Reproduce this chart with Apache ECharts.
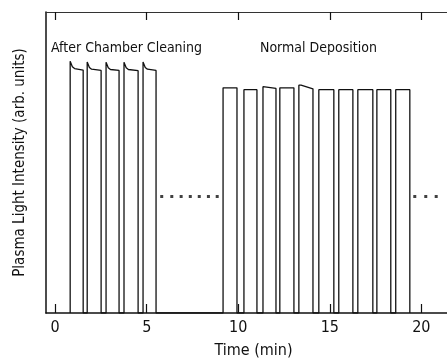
<!DOCTYPE html>
<html>
<head>
<meta charset="utf-8">
<script src="https://cdn.jsdelivr.net/npm/echarts@6/dist/echarts.min.js"></script>
<style>
  html, body { margin: 0; padding: 0; background: #fff; }
  #chart { width: 447px; height: 364px; }
</style>
</head>
<body>
<div id="chart"></div>
<script>
// pulses after chamber cleaning (time in min, intensity in arb. units 0-100)
const cleanOn = [0.82, 1.75, 2.78, 3.76, 4.80]
const cleanOff = [1.53, 2.51, 3.49, 4.53, 5.51]
const cleanPeak = [83.6, 83.4, 83.3, 83.3, 83.4]
// decay of the top: minutes after switch-on / level
const cleanDecayDt = [0.02, 0.12, 0.24]
const cleanDecayVal = [83.2, 81.8, 81.2]
const cleanEnd = [80.7, 80.6, 80.6, 80.5, 80.6]

// pulses during normal deposition
const normOn = [9.17, 10.31, 11.35, 12.27, 13.31, 14.40, 15.49, 16.53, 17.57, 18.60]
const normOff = [9.93, 11.02, 12.06, 13.04, 14.08, 15.22, 16.26, 17.35, 18.33, 19.37]
const normStart = [74.8, 74.2, 75.2, 74.8, 75.7, 74.2, 74.2, 74.2, 74.2, 74.2]
const normEnd = [74.8, 74.2, 74.6, 74.8, 74.5, 74.2, 74.2, 74.2, 74.2, 74.2]

// dotted gaps
const dotsLeftX = [5.82, 6.37, 6.88, 7.38, 7.87, 8.37, 8.85]
const dotsRightX = [19.64, 20.24, 20.81]
const dotLevel = 38.7

const tickValues = [0, 5, 10, 15, 20]

const font = "'DejaVu Sans Condensed', 'Liberation Sans Narrow', 'DejaVu Sans', sans-serif"

function buildTrace () {
  const pts = []
  cleanOn.forEach((t, i) => {
    pts.push([t, 0], [t, cleanPeak[i]])
    cleanDecayDt.forEach((dt, k) => {
      pts.push([t + dt, cleanDecayVal[k] + (cleanPeak[i] - cleanPeak[0])])
    })
    pts.push([cleanOff[i], cleanEnd[i]], [cleanOff[i], 0])
  })
  normOn.forEach((t, i) => {
    pts.push([t, 0], [t, normStart[i]])
    if (i === 4) pts.push([t + 0.12, normStart[i]])
    pts.push([normOff[i], normEnd[i]], [normOff[i], 0])
  })
  return pts
}

const chart = echarts.init(document.getElementById('chart'))
chart.setOption({
  animation: false,
  grid: { left: 46, right: 0, top: 12, bottom: 48 },
  xAxis: [
    {
      type: 'value',
      min: -0.5,
      max: 21.4,
      name: 'Time (min)',
      nameLocation: 'middle',
      nameGap: 30,
      nameTextStyle: { color: '#111', fontSize: 16, fontFamily: font, padding: [0, 0, 0, 14] },
      axisLine: { show: true, onZero: false, lineStyle: { color: '#111', width: 1.5 } },
      axisTick: { show: true, inside: true, length: 9, customValues: tickValues, lineStyle: { color: '#111', width: 1.2 } },
      axisLabel: { show: true, customValues: tickValues, margin: 7, color: '#111', fontSize: 16, fontFamily: font },
      splitLine: { show: false }
    },
    {
      type: 'value',
      position: 'top',
      min: -0.5,
      max: 21.4,
      axisLine: { show: true, onZero: false, lineStyle: { color: '#333', width: 1.2 } },
      axisTick: { show: true, inside: true, length: 8, customValues: tickValues, lineStyle: { color: '#111', width: 1.2 } },
      axisLabel: { show: false },
      splitLine: { show: false }
    }
  ],
  yAxis: {
    type: 'value',
    min: 0,
    max: 100,
    name: 'Plasma Light Intensity (arb. units)',
    nameLocation: 'middle',
    nameGap: 18,
    nameTextStyle: { color: '#111', fontSize: 15, fontFamily: font },
    axisLine: { show: true, onZero: false, lineStyle: { color: '#111', width: 1.5 } },
    axisTick: { show: false },
    axisLabel: { show: false },
    splitLine: { show: false }
  },
  series: [
    {
      type: 'line',
      data: buildTrace(),
      symbol: 'none',
      lineStyle: { color: '#111', width: 1.3 },
      z: 3
    },
    {
      type: 'scatter',
      data: dotsLeftX.concat(dotsRightX).map(x => [x, dotLevel]),
      symbol: 'rect',
      symbolSize: 3,
      itemStyle: { color: '#111' }
    }
  ],
  graphic: [
    {
      type: 'text',
      left: 51,
      top: 41,
      style: { text: 'After Chamber Cleaning', fill: '#111', fontSize: 14, fontFamily: font }
    },
    {
      type: 'text',
      left: 260,
      top: 41,
      style: { text: 'Normal Deposition', fill: '#111', fontSize: 14, fontFamily: font }
    }
  ]
})
</script>
</body>
</html>
